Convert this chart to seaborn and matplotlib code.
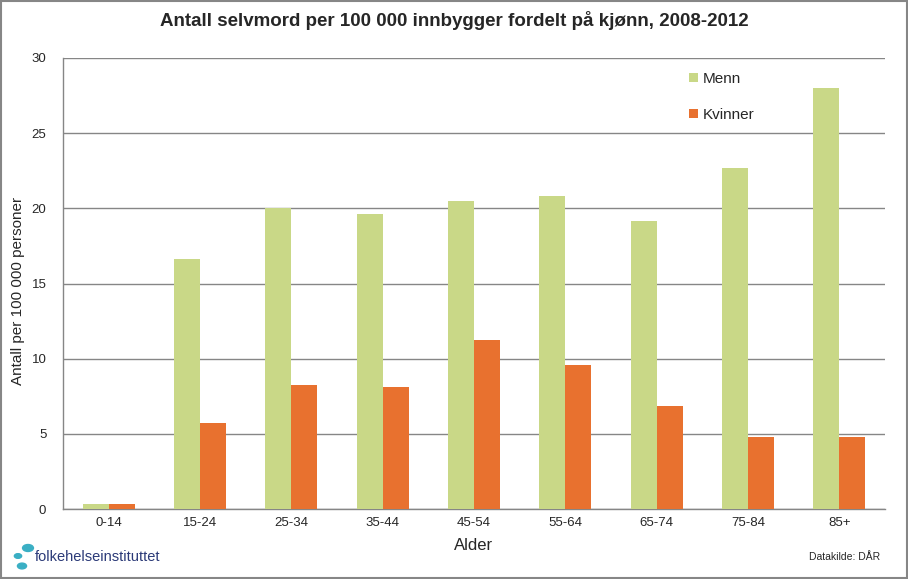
import matplotlib
matplotlib.use("Agg")
import matplotlib.pyplot as plt
import seaborn as sns
import pandas as pd
from matplotlib.patches import Circle, Rectangle

categories = ["0-14", "15-24", "25-34", "35-44", "45-54", "55-64", "65-74", "75-84", "85+"]
menn = [0.3, 16.6, 20.05, 19.6, 20.5, 20.8, 19.15, 22.7, 28.0]
kvinner = [0.3, 5.75, 8.25, 8.1, 11.25, 9.6, 6.85, 4.8, 4.8]
series = ["Menn", "Kvinner"]
colors = ["#C9D887", "#E8712F"]
yticks = [0, 5, 10, 15, 20, 25, 30]

df = pd.DataFrame({
    "Alder": categories * 2,
    "verdi": menn + kvinner,
    "kjonn": [series[0]] * len(categories) + [series[1]] * len(categories),
})

sns.set_theme(style="white")
plt.rcParams['font.family'] = ['Liberation Sans', 'DejaVu Sans']

fig = plt.figure(figsize=(9.08, 5.79), dpi=100)
ax = fig.add_axes([63/908, 1-509/579, (885-63)/908, (509-58)/579])

sns.barplot(data=df, x="Alder", y="verdi", hue="kjonn", hue_order=series,
            palette=colors, width=0.57, gap=0, saturation=1, ax=ax,
            edgecolor="none", linewidth=0, zorder=3)

ax.set_ylim(0, 30)
ax.set_xlim(-0.5, len(categories) - 0.5)
ax.set_yticks(yticks)
ax.set_yticklabels([str(t) for t in yticks], fontsize=9.5)
ax.tick_params(axis="x", labelsize=9.5, length=0, pad=6)
ax.tick_params(axis="y", length=0, pad=12)
ax.grid(axis="y", color="#868686", linewidth=1.0, zorder=0)
for s in ["top", "right"]:
    ax.spines[s].set_visible(False)
for s in ["left", "bottom"]:
    ax.spines[s].set_color("#868686")
    ax.spines[s].set_linewidth(1.0)
ax.set_xlabel("Alder", fontsize=12, labelpad=6)
ax.set_ylabel("Antall per 100 000 personer", fontsize=11, va="center")
ax.yaxis.set_label_coords((18 - 63) / 822, (509 - 291) / 451)

leg = ax.legend(loc="upper left", bbox_to_anchor=(0.745, 1.0), frameon=False,
                fontsize=11, labelspacing=1.45, handlelength=0.6, handleheight=0.6,
                handletextpad=0.3)

fig.text(0.5, 1-20/579, "Antall selvmord per 100 000 innbygger fordelt på kjønn, 2008-2012",
         ha="center", va="center", fontsize=13.5, fontweight="bold")
fig.text(880/908, 1-557/579, "Datakilde: DÅR", ha="right", va="center", fontsize=7.5)

# logo
fig.text(35/908, 1-557/579, "folkehelseinstituttet", ha="left", va="center",
         fontsize=10.5, color="#2B3A78")
fig.patches.append(Circle((28/908, 1-548/579), 0.006, transform=fig.transFigure,
                          color="#3AAFC4", zorder=5))
fig.patches.append(Circle((18/908, 1-556/579), 0.004, transform=fig.transFigure,
                          color="#3AAFC4", zorder=5))
fig.patches.append(Circle((22/908, 1-566/579), 0.005, transform=fig.transFigure,
                          color="#3AAFC4", zorder=5))

# figure border
fig.patches.append(Rectangle((0.001, 0.001), 0.998, 0.997, transform=fig.transFigure,
                             fill=False, edgecolor="#868686", linewidth=1.5, zorder=10))

fig.savefig("out.png", dpi=100)
